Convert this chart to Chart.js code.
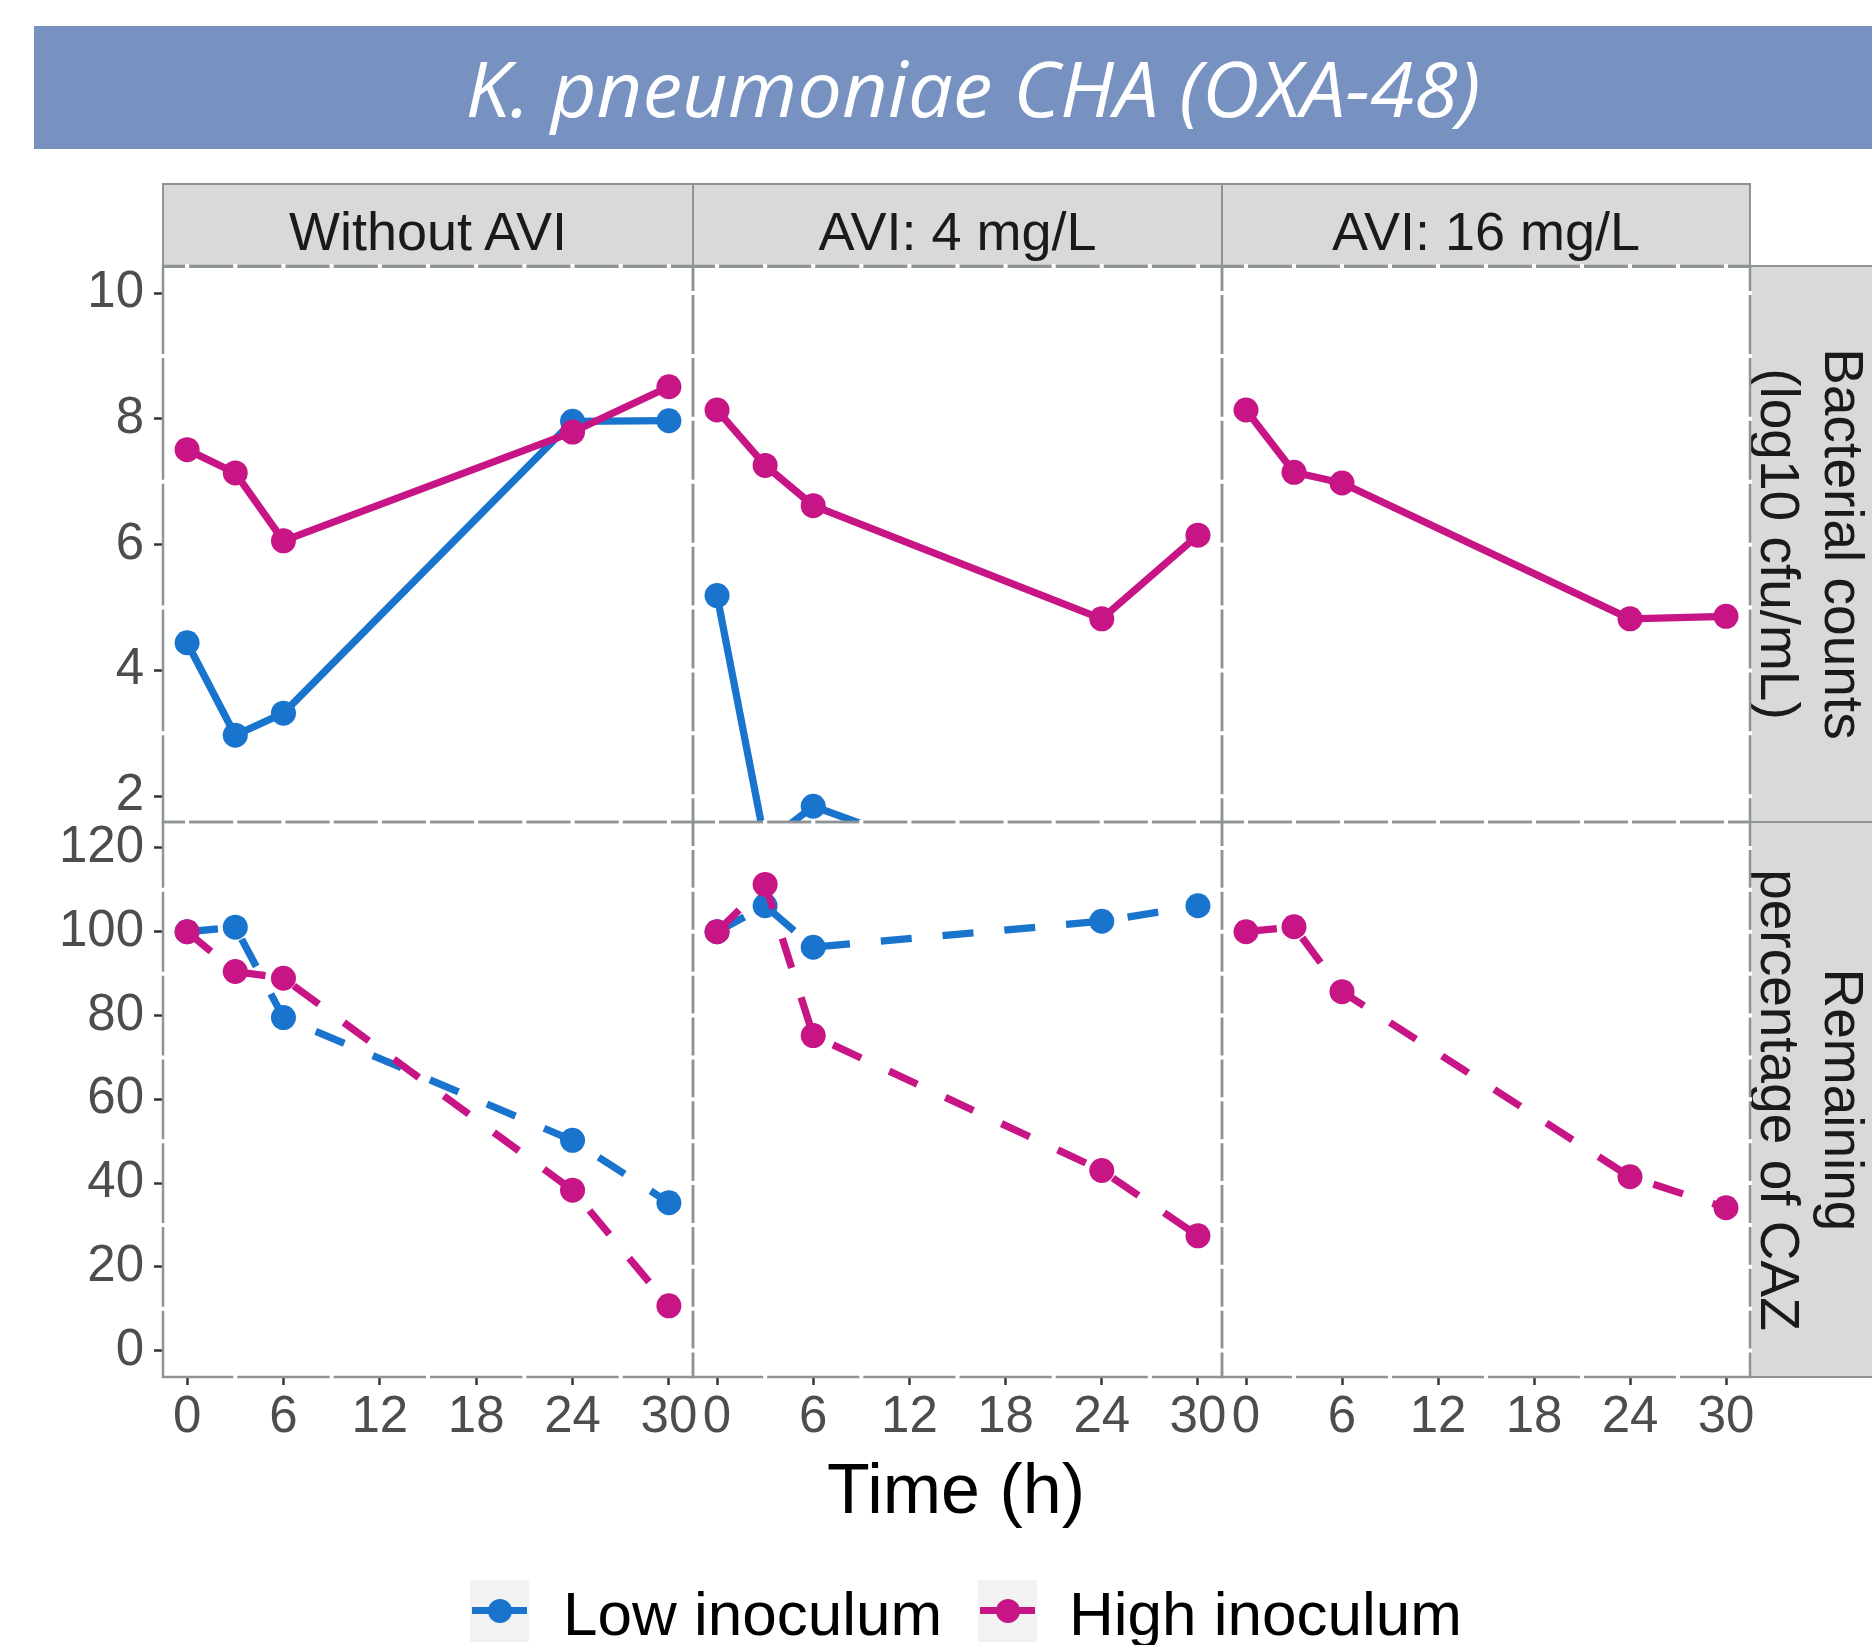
<!DOCTYPE html>
<html>
<head>
<meta charset="utf-8">
<title>K. pneumoniae CHA (OXA-48)</title>
<script src="https://cdn.jsdelivr.net/npm/chart.js@4.4.1/dist/chart.umd.min.js"></script>
<style>
    html, body { margin: 0; padding: 0; background: #ffffff; }
    body { width: 1872px; height: 1645px; position: relative; overflow: hidden; }
    .txt { position: absolute; white-space: nowrap; }
    .box { position: absolute; box-sizing: border-box; }
    canvas { position: absolute; }
</style>
</head>
<body>
<script>
// Tempos de coleta (h)
const timePoints = [0, 3, 6, 24, 30];
const timeTicks = [0, 6, 12, 18, 24, 30];

// Contagem bacteriana (log10 cfu/mL) - linha de cima
const countTicks = [2, 4, 6, 8, 10];
const countLowNoAvi = [4.44, 2.97, 3.32, 7.96, 7.97];
const countHighNoAvi = [7.51, 7.14, 6.06, 7.79, 8.51];
const countLowAvi4 = [5.19, 1.25, 1.84, 0.17, 0.17];
const countHighAvi4 = [8.14, 7.26, 6.62, 4.82, 6.15];
const countHighAvi16 = [8.14, 7.15, 6.98, 4.82, 4.86];

// Percentual remanescente de CAZ - linha de baixo
const cazTicks = [0, 20, 40, 60, 80, 100, 120];
const cazLowNoAvi = [100, 101.1, 79.5, 50.2, 35.3];
const cazHighNoAvi = [100, 90.5, 88.9, 38.3, 10.7];
const cazLowAvi4 = [100, 106.2, 96.3, 102.5, 106.2];
const cazHighAvi4 = [100, 111.3, 75.2, 43.0, 27.4];
const cazHighAvi16 = [100, 101.2, 85.7, 41.5, 34.1];

const facetLabels = ['Without AVI', 'AVI: 4 mg/L', 'AVI: 16 mg/L'];
const rowLabels = [['Bacterial counts', '(log10 cfu/mL)'], ['Remaining', 'percentage of CAZ']];
const seriesNames = ['Low inoculum', 'High inoculum'];

const LOW_COLOR = '#1874CD';
const HIGH_COLOR = '#C71585';
const FRAME = '#8E9494';
const STRIP_BG = '#D9D9D9';
const SANS = "'Liberation Sans', Arial, sans-serif";

Chart.defaults.font.family = SANS;

// Geometria dos painéis (px na página)
const COLS = [163, 693, 1222, 1750];
const ROWS = [266, 822, 1377];

// Coloca um texto pela linha de base
function addText(str, opt) {
    const el = document.createElement('div');
    el.className = 'txt';
    el.textContent = str;
    const size = opt.size;
    const k = opt.k || 0.8465;
    el.style.font = `${opt.style || 'normal'} ${opt.weight || 400} ${size}px ${opt.family || SANS}`;
    el.style.lineHeight = size + 'px';
    el.style.color = opt.color || '#1A1A1A';
    if (opt.rotate) {
        el.style.left = opt.x + 'px';
        el.style.top = opt.y + 'px';
        el.style.transform = 'translate(-50%, -50%) rotate(90deg)';
    } else {
        el.style.left = opt.x + 'px';
        el.style.top = (opt.baseline - k * size) + 'px';
        el.style.transformOrigin = '0 0';
        el.style.transform = opt.align === 'left' ? '' : `translateX(-50%)`;
    }
    document.body.appendChild(el);
    return el;
}

function addBox(x, y, w, h, bg, border) {
    const el = document.createElement('div');
    el.className = 'box';
    el.style.left = x + 'px';
    el.style.top = y + 'px';
    el.style.width = w + 'px';
    el.style.height = h + 'px';
    el.style.background = bg;
    if (border) el.style.border = border;
    document.body.appendChild(el);
    return el;
}

// Faixa de título
addBox(34, 26, 1838, 123, '#7792C1');
const titleText = 'K. pneumoniae CHA (OXA-48)';
const titleEl = addText(titleText, {
    x: 973, baseline: 117, size: 77, style: 'italic', family: "'Open Sans', sans-serif",
    color: '#ffffff', k: 0.888
});
{
    const c = document.createElement('canvas').getContext('2d');
    c.font = "italic 77px 'Open Sans', sans-serif";
    const s = 1015 / c.measureText(titleText).width;
    titleEl.style.transform = `translateX(-50%) scaleX(${s.toFixed(3)})`;
    titleEl.style.transformOrigin = '50% 0';
}

// Faixas das facetas (colunas)
facetLabels.forEach((lab, c) => {
    addBox(COLS[c] - 1, 183, COLS[c + 1] - COLS[c] + 2, ROWS[0] - 183 + 2, STRIP_BG, `2px solid ${FRAME}`);
    addText(lab, { x: (COLS[c] + COLS[c + 1]) / 2, baseline: 250, size: 54 });
});

// Faixas das linhas (à direita)
rowLabels.forEach((lines, r) => {
    addBox(COLS[3] - 1, ROWS[r] - 1, 140, ROWS[r + 1] - ROWS[r] + 2, STRIP_BG, `2px solid ${FRAME}`);
    const cy = (ROWS[r] + ROWS[r + 1]) / 2;
    addText(lines[0], { x: 1843, y: cy, size: 55, rotate: true });
    addText(lines[1], { x: 1779, y: cy, size: 55, rotate: true });
});

// Moldura do painel + cortes brancos das linhas de grade
function midpoints(arr) {
    const out = [];
    for (let i = 0; i < arr.length - 1; i++) out.push((arr[i] + arr[i + 1]) / 2);
    return out;
}

const panelFrame = {
    id: 'panelFrame',
    afterDatasetsDraw(chart, args, opts) {
        const { ctx, chartArea: a, scales } = chart;
        ctx.save();
        ctx.strokeStyle = FRAME;
        ctx.lineWidth = 2.5;
        ctx.strokeRect(a.left, a.top, a.right - a.left, a.bottom - a.top);

        ctx.strokeStyle = '#ffffff';
        ctx.lineWidth = 4;
        ctx.beginPath();
        const xs = opts.xMajor.concat(midpoints(opts.xMajor));
        xs.forEach(v => {
            const px = scales.x.getPixelForValue(v);
            ctx.moveTo(px, a.top - 2);
            ctx.lineTo(px, a.top + 2);
            if (!(opts.xAxis && opts.xMajor.includes(v))) {
                ctx.moveTo(px, a.bottom - 2);
                ctx.lineTo(px, a.bottom + 2);
            }
        });
        const ys = opts.yMajor.concat(midpoints(opts.yMajor));
        ys.forEach(v => {
            const py = scales.y.getPixelForValue(v);
            ctx.moveTo(a.right - 2, py);
            ctx.lineTo(a.right + 2, py);
            if (!(opts.yAxis && opts.yMajor.includes(v))) {
                ctx.moveTo(a.left - 2, py);
                ctx.lineTo(a.left + 2, py);
            }
        });
        ctx.stroke();
        ctx.restore();
    }
};

function toPoints(values) {
    return timePoints.map((t, i) => ({ x: t, y: values[i] }));
}

function makePanel(row, col, series) {
    const axisW = col === 0 ? COLS[0] : 0;
    const padL = col === 0 ? 0 : 30;
    const padR = 45;
    const padT = 14;
    const padB = row === 1 ? 0 : 14;
    const axisH = row === 1 ? 80 : 0;

    const left = COLS[col] - axisW - padL;
    const top = ROWS[row] - padT;
    const w = COLS[col + 1] - left + padR;
    const h = ROWS[row + 1] - top + padB + axisH;

    const canvas = document.createElement('canvas');
    canvas.width = w;
    canvas.height = h;
    canvas.style.left = left + 'px';
    canvas.style.top = top + 'px';
    canvas.style.width = w + 'px';
    canvas.style.height = h + 'px';
    document.body.appendChild(canvas);

    const yTicks = row === 0 ? countTicks : cazTicks;
    const yMin = row === 0 ? 1.59 : -6.3;
    const yMax = row === 0 ? 10.43 : 126.2;
    const tickFont = { family: SANS, size: 51 };

    return new Chart(canvas, {
        type: 'line',
        data: {
            datasets: series.map(s => ({
                label: s.label,
                data: toPoints(s.values),
                borderColor: s.color,
                backgroundColor: s.color,
                pointBackgroundColor: s.color,
                pointBorderWidth: 0,
                pointRadius: 12.5,
                borderWidth: 7.3,
                borderDash: row === 1 ? [31, 31] : [],
                borderCapStyle: 'butt',
                borderJoinStyle: 'round',
                tension: 0
            }))
        },
        options: {
            responsive: false,
            animation: false,
            events: [],
            devicePixelRatio: 1,
            layout: { padding: { left: padL, right: padR, top: padT, bottom: padB } },
            plugins: {
                legend: { display: false },
                tooltip: { enabled: false },
                panelFrame: { xMajor: timeTicks, yMajor: yTicks, xAxis: row === 1, yAxis: col === 0 }
            },
            scales: {
                x: {
                    type: 'linear',
                    min: -1.5,
                    max: 31.5,
                    display: row === 1,
                    afterBuildTicks: s => { s.ticks = timeTicks.map(v => ({ value: v })); },
                    afterFit: s => { s.height = axisH; s.paddingLeft = 0; s.paddingRight = 0; },
                    ticks: { font: tickFont, color: '#4D4D4D', padding: 2, autoSkip: false, maxRotation: 0 },
                    grid: { drawOnChartArea: false, tickLength: 8, tickWidth: 2.5, tickColor: '#333333' },
                    border: { display: false }
                },
                y: {
                    type: 'linear',
                    min: yMin,
                    max: yMax,
                    display: col === 0,
                    afterBuildTicks: s => { s.ticks = yTicks.map(v => ({ value: v })); },
                    afterFit: s => { s.width = axisW; s.paddingTop = 0; s.paddingBottom = 0; },
                    ticks: { font: tickFont, color: '#4D4D4D', padding: 10, autoSkip: false },
                    grid: { drawOnChartArea: false, tickLength: 9, tickWidth: 2.5, tickColor: '#333333' },
                    border: { display: false }
                }
            }
        },
        plugins: [panelFrame]
    });
}

// Alto inóculo primeiro para ficar por cima
makePanel(0, 0, [
    { label: seriesNames[1], values: countHighNoAvi, color: HIGH_COLOR },
    { label: seriesNames[0], values: countLowNoAvi, color: LOW_COLOR }
]);
makePanel(0, 1, [
    { label: seriesNames[1], values: countHighAvi4, color: HIGH_COLOR },
    { label: seriesNames[0], values: countLowAvi4, color: LOW_COLOR }
]);
makePanel(0, 2, [
    { label: seriesNames[1], values: countHighAvi16, color: HIGH_COLOR }
]);
makePanel(1, 0, [
    { label: seriesNames[1], values: cazHighNoAvi, color: HIGH_COLOR },
    { label: seriesNames[0], values: cazLowNoAvi, color: LOW_COLOR }
]);
makePanel(1, 1, [
    { label: seriesNames[1], values: cazHighAvi4, color: HIGH_COLOR },
    { label: seriesNames[0], values: cazLowAvi4, color: LOW_COLOR }
]);
makePanel(1, 2, [
    { label: seriesNames[1], values: cazHighAvi16, color: HIGH_COLOR }
]);

// Título do eixo x
addText('Time (h)', { x: 956, baseline: 1513, size: 70, color: '#000000' });

// Legenda
function legendKey(x, color) {
    addBox(x, 1580, 59, 62, '#F2F2F2');
    addBox(x + 2, 1607, 55, 7, color);
    const dot = addBox(x + 29.5 - 12, 1610.5 - 12, 24, 24, color);
    dot.style.borderRadius = '50%';
}
legendKey(470, LOW_COLOR);
addText(seriesNames[0], { x: 563, baseline: 1635, size: 62, color: '#000000', align: 'left' });
legendKey(978, HIGH_COLOR);
addText(seriesNames[1], { x: 1069, baseline: 1635, size: 62, color: '#000000', align: 'left' });
</script>
</body>
</html>
